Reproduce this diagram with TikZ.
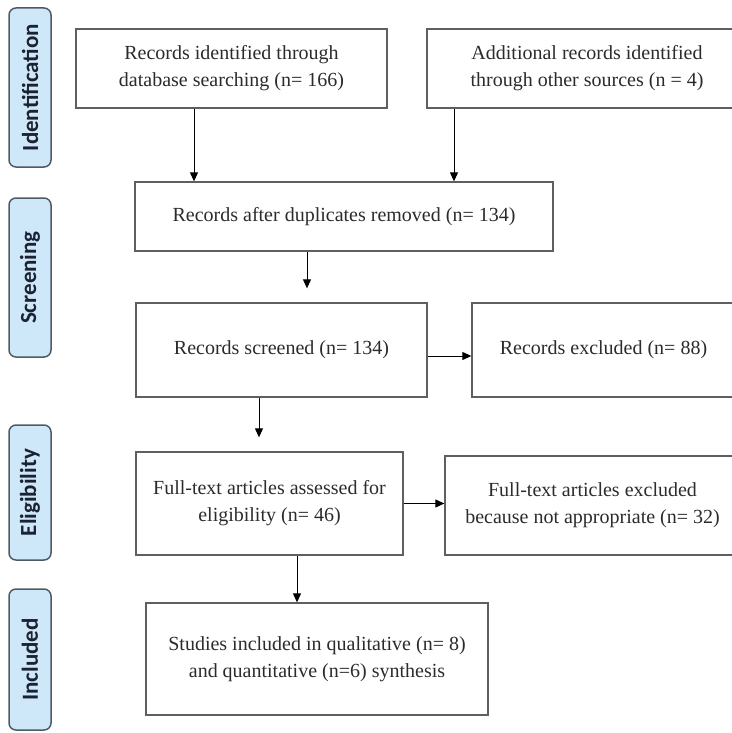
\documentclass[tikz,border=0pt]{standalone}
\usepackage{fontspec}
\setmainfont{Liberation Serif}
\newfontfamily\barfont{Carlito}
\usetikzlibrary{calc,arrows.meta}
\definecolor{barfill}{HTML}{CFE8F9}
\definecolor{barline}{HTML}{505A64}
\definecolor{bartext}{HTML}{1B2233}
\definecolor{boxline}{HTML}{5F5F5F}
\definecolor{boxtext}{HTML}{2B2B2B}

\begin{document}
\begin{tikzpicture}[x=1pt,y=-1pt,
    phase/.style={draw=barline, fill=barfill, line width=1.5pt, rounded corners=7pt,
        rotate=90, minimum height=42pt, inner sep=0pt, text=bartext,
        font=\barfont\bfseries\fontsize{23}{23}\selectfont},
    recbox/.style={draw=boxline, line width=1.3pt, inner sep=0pt, align=center,
        text=boxtext, font=\fontsize{20}{27}\selectfont},
    arr/.style={-{Triangle[length=9pt,width=8pt]}, line width=1pt}]
    \useasboundingbox (0,0) rectangle (731,733);
    % phases on the left
    \node[phase, minimum width=159pt] (ident) at (30,87.5) {Identification};
    \node[phase, minimum width=159pt] (screen) at (30,277.5) {Screening};
    \node[phase, minimum width=135pt] (elig) at (30,492.5) {Eligibility};
    \node[phase, minimum width=141pt] (incl) at (30,659.5) {Included};
    % record boxes
    \node[recbox, minimum width=311pt, minimum height=79pt] (idrec) at (231.5,68.5)
        {Records identified through\\database searching (n= 166)};
    \node[recbox, minimum width=320pt, minimum height=79pt] (otherrec) at (587,68.5)
        {Additional records identified\\through other sources (n = 4)};
    \node[recbox, minimum width=418pt, minimum height=69pt] (dedup) at (344,216.5)
        {Records after duplicates removed (n= 134)};
    \node[recbox, minimum width=291pt, minimum height=94pt] (screened) at (281.5,350)
        {Records screened (n= 134)};
    \node[recbox, minimum width=263pt, minimum height=94pt] (excluded) at (603.5,350)
        {Records excluded (n= 88)};
    \node[recbox, minimum width=267pt, minimum height=103pt] (fulltext) at (269.5,503.5)
        {Full-text articles assessed for\\eligibility (n= 46)};
    \node[recbox, minimum width=295pt, minimum height=99pt] (ftexcl) at (592.5,505.5)
        {Full-text articles excluded\\because not appropriate (n= 32)};
    \node[recbox, minimum width=342pt, minimum height=112pt] (studies) at (317,659)
        {Studies included in qualitative (n= 8)\\and quantitative (n=6) synthesis};
    % arrow start points
    \coordinate (a1) at ($(idrec.south)+(-37.5,0)$);
    \coordinate (a2) at ($(otherrec.south)+(-133,0)$);
    \coordinate (a3) at ($(dedup.south)+(-37,0)$);
    \coordinate (a4) at ($(screened.east)+(0,6)$);
    \coordinate (a5) at ($(screened.south)+(-22.5,0)$);
    \coordinate (a7) at ($(fulltext.south)+(27.5,0)$);
    \draw[arr] (a1) -- (a1 |- dedup.north);
    \draw[arr] (a2) -- (a2 |- dedup.north);
    \draw[arr, shorten >=14pt] (a3) -- (a3 |- screened.north);
    \draw[arr] (a4) -- (a4 -| excluded.west);
    \draw[arr, shorten >=14pt] (a5) -- (a5 |- fulltext.north);
    \draw[arr] (fulltext.east) -- (fulltext.east -| ftexcl.west);
    \draw[arr] (a7) -- (a7 |- studies.north);
\end{tikzpicture}
\end{document}
